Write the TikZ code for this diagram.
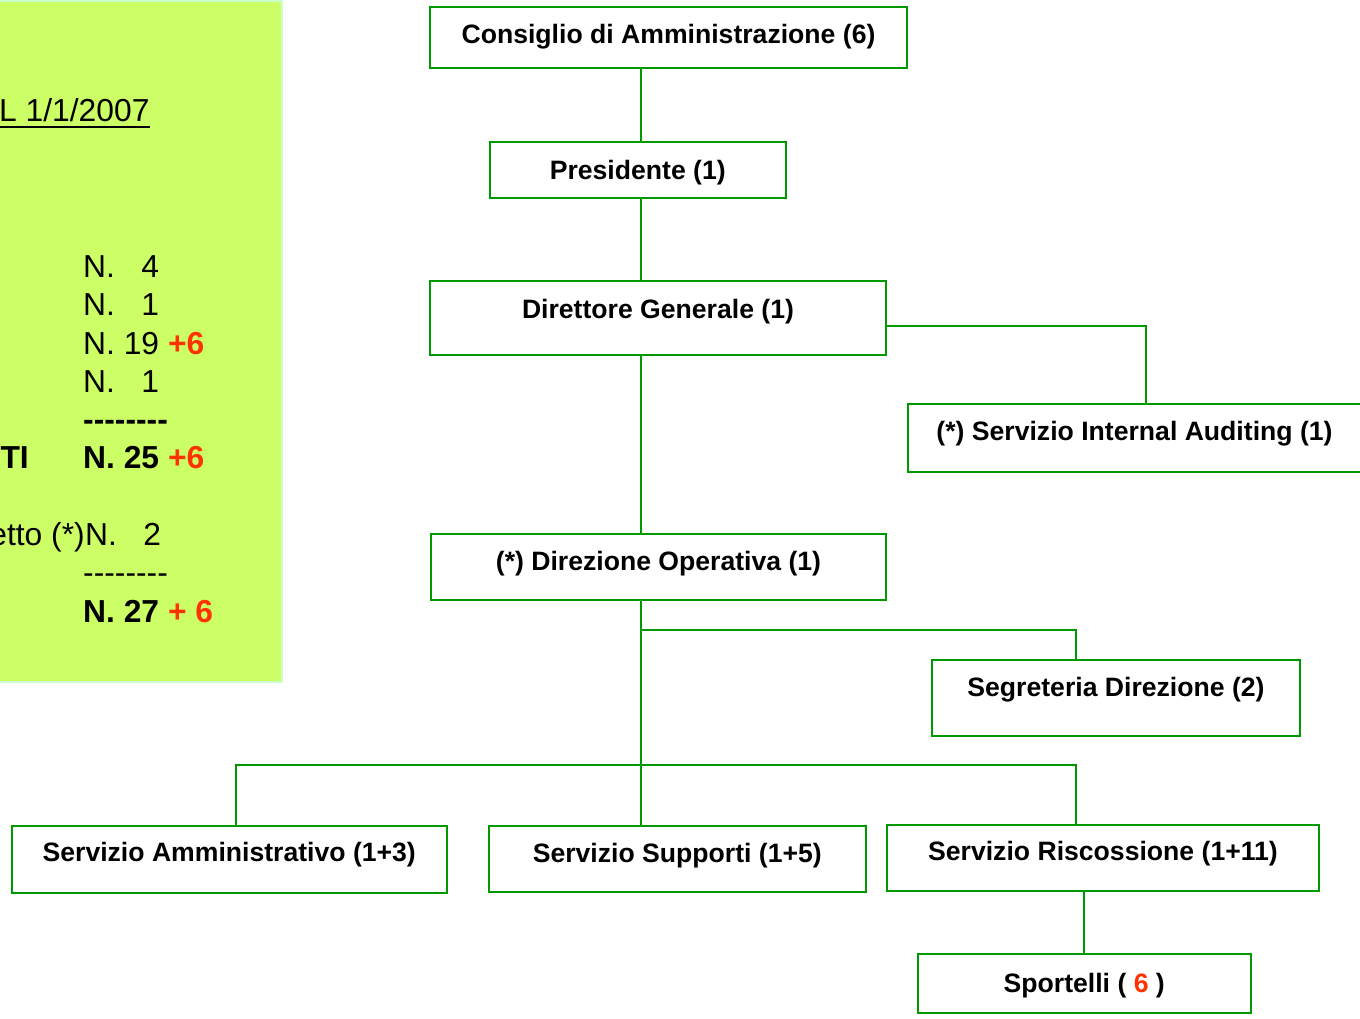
\documentclass[tikz,border=0pt]{standalone}
\usepackage{fontspec}
\setmainfont{Liberation Sans}
\definecolor{boxgreen}{RGB}{0,153,0}
\definecolor{panelfill}{RGB}{204,255,102}
\definecolor{panelline}{RGB}{204,255,204}
\definecolor{redtxt}{RGB}{255,51,0}
\newcommand{\myhy}{-\kern0pt}
\newcommand{\mydashes}{\myhy\myhy\myhy\myhy\myhy\myhy\myhy\myhy}
\tikzset{
  box/.style={draw=boxgreen, line width=2pt, inner sep=0pt, outer sep=0pt, anchor=north west},
  btxt/.style={anchor=base, inner sep=0pt, font=\fontsize{26.6}{30}\selectfont\bfseries},
  ptxt/.style={anchor=base west, inner sep=0pt, font=\fontsize{31.8}{36}\selectfont},
  ptxte/.style={anchor=base east, inner sep=0pt, font=\fontsize{31.8}{36}\selectfont},
  conn/.style={draw=boxgreen, line width=2pt}
}
\begin{document}
\begin{tikzpicture}[x=1pt,y=-1pt]
\useasboundingbox (0,0) rectangle (1360,1019);
\begin{scope}
\clip (0,0) rectangle (1360,1019);
% left panel
\draw[fill=panelfill, draw=panelline, line width=2pt] (-5,1) rectangle (281.7,681.8);
\node[ptxt] (title) at (-1,122) {L 1/1/2007};
\draw[line width=2pt] ([yshift=-5pt]title.base west) -- ([yshift=-5pt]title.base east);
\node[ptxt] (r1) at (83,277) {N. \phantom{1}4};
\node[ptxt] (r2) at (83,315.5) {N. \phantom{1}1};
\node[ptxt] (r3) at (83,354) {N. 19 \textbf{\color{redtxt}+6}};
\node[ptxt] (r4) at (83,392) {N. \phantom{1}1};
\node[ptxt] (r5) at (83,430) {\bfseries\mydashes};
\node[ptxte] (r6a) at (29,468.5) {\bfseries TI};
\node[ptxt] (r6) at (83,468.5) {\bfseries N. 25 {\color{redtxt}+6}};
\node[ptxte] (r7a) at (85,545) {etto (*)};
\node[ptxt] (r7) at (85,545) {N. \phantom{1}2};
\node[ptxt] (r8) at (83,583) {\mydashes};
\node[ptxt] (r9) at (83,622) {\bfseries N. 27 {\color{redtxt}+ 6}};
% boxes
\node[box, minimum width=477pt, minimum height=61pt] (cda) at (430,7) {};
\node[box, minimum width=296.5pt, minimum height=56.5pt] (pres) at (489.5,142) {};
\node[box, minimum width=456pt, minimum height=74pt] (dg) at (430,281) {};
\node[box, minimum width=454pt, minimum height=68pt] (ia) at (907.5,404) {};
\node[box, minimum width=455pt, minimum height=66pt] (dop) at (431,534) {};
\node[box, minimum width=368pt, minimum height=76pt] (seg) at (932,660) {};
\node[box, minimum width=434.5pt, minimum height=67pt] (amm) at (12,825.5) {};
\node[box, minimum width=376.5pt, minimum height=66pt] (sup) at (489,826) {};
\node[box, minimum width=432pt, minimum height=66pt] (ris) at (887,825) {};
\node[box, minimum width=332.5pt, minimum height=59pt] (spo) at (918,954) {};
% box texts
\node[btxt] (tcda) at ([yshift=-37pt]cda.north) {Consiglio di Amministrazione (6)};
\node[btxt] (tpres) at ([yshift=-38pt]pres.north) {Presidente (1)};
\node[btxt] (tdg) at ([yshift=-37pt]dg.north) {Direttore Generale (1)};
\node[btxt] (tia) at ([yshift=-36pt]ia.north) {(*) Servizio Internal Auditing (1)};
\node[btxt] (tdop) at ([yshift=-36pt]dop.north) {(*) Direzione Operativa (1)};
\node[btxt] (tseg) at ([yshift=-36pt]seg.north) {Segreteria Direzione (2)};
\node[btxt] (tamm) at ([yshift=-36pt]amm.north) {Servizio Amministrativo (1+3)};
\node[btxt] (tsup) at ([yshift=-36pt]sup.north) {Servizio Supporti (1+5)};
\node[btxt] (tris) at ([yshift=-35pt]ris.north) {Servizio Riscossione (1+11)};
\node[btxt] (tspo) at ([yshift=-38pt]spo.north) {Sportelli ( {\color{redtxt}6} )};
% connectors
\coordinate (sp) at (641,0);
\coordinate (j1) at (1146,326);
\coordinate (j2) at (1076,630);
\coordinate (bl) at (236,765);
\coordinate (br) at (1076,765);
\coordinate (j3) at (1084,0);
\draw[conn] (cda.south -| sp) -- (pres.north -| sp);
\draw[conn] (pres.south -| sp) -- (dg.north -| sp);
\draw[conn] (dg.south -| sp) -- (dop.north -| sp);
\draw[conn] (dg.east |- j1) -- (j1) -- (ia.north -| j1);
\draw[conn] (dop.south -| sp) -- (sup.north -| sp);
\draw[conn] (sp |- j2) -- (j2) -- (seg.north -| j2);
\draw[conn] (amm.north -| bl) -- (bl) -- (br) -- (ris.north -| br);
\draw[conn] (ris.south -| j3) -- (spo.north -| j3);
\end{scope}
\end{tikzpicture}
\end{document}
